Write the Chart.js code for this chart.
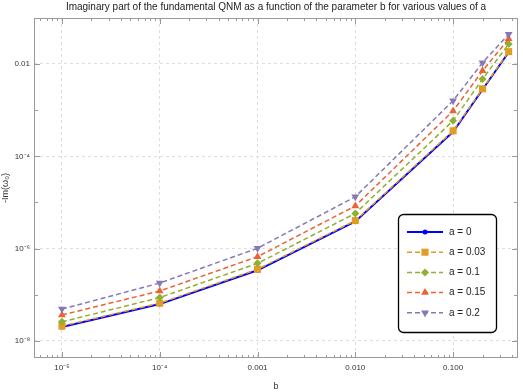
<!DOCTYPE html>
<html lang="en">
<head>
  <meta charset="UTF-8">
  <title>Imaginary part of the fundamental QNM</title>
  <style>
    html, body {
      margin: 0;
      padding: 0;
      background: #fff;
    }
    #wrap {
      width: 523px;
      height: 392px;
    }
  </style>
</head>
<body>
  <div id="wrap"><canvas id="qnmChart" width="523" height="392"></canvas></div>

  <script src="https://cdn.jsdelivr.net/npm/chart.js"></script>
  <script>
    // values
    const bValues = [1e-5, 1e-4, 1e-3, 1e-2, 0.1, 0.2, 0.37];
    const imA0 = [2.0e-8, 6.3e-8, 3.4e-7, 3.9e-6, 3.4e-4, 2.8e-3, 1.8e-2];
    const imA003 = [2.1e-8, 6.6e-8, 3.57e-7, 4.05e-6, 3.57e-4, 2.9e-3, 1.85e-2];
    const imA01 = [2.6e-8, 8.7e-8, 4.8e-7, 5.8e-6, 5.9e-4, 4.7e-3, 2.7e-2];
    const imA015 = [3.66e-8, 1.21e-7, 6.7e-7, 8.4e-6, 9.6e-4, 7.1e-3, 3.5e-2];
    const imA02 = [4.9e-8, 1.8e-7, 1.02e-6, 1.33e-5, 1.6e-3, 1.07e-2, 4.4e-2];

    const seriesLabels = ['a = 0', 'a = 0.03', 'a = 0.1', 'a = 0.15', 'a = 0.2'];
    const chartTitle = 'Imaginary part of the fundamental QNM as a function of the parameter b for various values of a';

    // tick marks and labels
    const xMajor = [1e-5, 1e-4, 1e-3, 1e-2, 0.1];
    const xMajorLabels = ['10\u207B\u2075', '10\u207B\u2074', '0.001', '0.010', '0.100'];
    const xMinor = [6e-6, 7e-6, 8e-6, 9e-6,
      2e-5, 3e-5, 4e-5, 5e-5, 6e-5, 7e-5, 8e-5, 9e-5,
      2e-4, 3e-4, 4e-4, 5e-4, 6e-4, 7e-4, 8e-4, 9e-4,
      2e-3, 3e-3, 4e-3, 5e-3, 6e-3, 7e-3, 8e-3, 9e-3,
      0.02, 0.03, 0.04, 0.05, 0.06, 0.07, 0.08, 0.09,
      0.2, 0.3, 0.4];
    const yMajor = [1e-8, 1e-6, 1e-4, 1e-2];
    const yMajorLabels = ['10\u207B\u2078', '10\u207B\u2076', '10\u207B\u2074', '0.01'];
    const yMinor = [1e-7, 1e-5, 1e-3];

    const FONT = "'Liberation Sans', Arial, sans-serif";

    function pairs(ys) {
      return bValues.map((b, i) => ({ x: b, y: ys[i] }));
    }

    function labelFor(majors, labels, v) {
      const i = majors.indexOf(v);
      return i >= 0 ? labels[i] : '';
    }

    const styles = [
      { color: '#0000ff', dash: [], width: 2, point: 'circle', radius: 2.5, rot: 0 },
      { color: '#e19c24', dash: [5, 3], width: 1.5, point: 'rect', radius: 5, rot: 0 },
      { color: '#8fb032', dash: [5, 3], width: 1.5, point: 'rectRot', radius: 4, rot: 0 },
      { color: '#eb6235', dash: [5, 3], width: 1.5, point: 'triangle', radius: 4.5, rot: 0 },
      { color: '#8778b3', dash: [5, 3], width: 1.5, point: 'triangle', radius: 4.5, rot: 180 }
    ];
    const seriesData = [imA0, imA003, imA01, imA015, imA02];

    const datasets = seriesData.map((ys, i) => ({
      label: seriesLabels[i],
      data: pairs(ys),
      borderColor: styles[i].color,
      backgroundColor: styles[i].color,
      borderWidth: styles[i].width,
      borderDash: styles[i].dash,
      pointStyle: styles[i].point,
      pointRadius: styles[i].radius,
      pointRotation: styles[i].rot,
      pointBorderWidth: 0,
      pointBackgroundColor: styles[i].color,
      tension: 0,
      order: 5 - i
    }));

    function drawMarker(ctx, st, x, y) {
      ctx.save();
      ctx.fillStyle = st.color;
      ctx.translate(x, y);
      ctx.rotate(st.rot * Math.PI / 180);
      ctx.beginPath();
      const r = st.radius;
      if (st.point === 'circle') {
        ctx.arc(0, 0, r, 0, Math.PI * 2);
      } else if (st.point === 'rect') {
        const s = r * Math.SQRT1_2;
        ctx.rect(-s, -s, 2 * s, 2 * s);
      } else if (st.point === 'rectRot') {
        ctx.moveTo(0, -r); ctx.lineTo(r, 0); ctx.lineTo(0, r); ctx.lineTo(-r, 0);
        ctx.closePath();
      } else {
        ctx.moveTo(0, -r);
        ctx.lineTo(r * 0.87, r * 0.5);
        ctx.lineTo(-r * 0.87, r * 0.5);
        ctx.closePath();
      }
      ctx.fill();
      ctx.restore();
    }

    // frame, inward ticks, title over the plot area and the boxed legend
    const framePlugin = {
      id: 'frameTicks',
      afterDatasetsDraw(chart) {
        const ctx = chart.ctx;
        const area = chart.chartArea;
        const xs = chart.scales.x, ys = chart.scales.y;
        ctx.save();
        ctx.strokeStyle = '#9a9a9a';
        ctx.lineWidth = 1;
        ctx.setLineDash([]);
        ctx.strokeRect(area.left + 0.5, area.top + 0.5, area.right - area.left - 1, area.bottom - area.top - 1);
        ctx.beginPath();
        xMajor.concat(xMinor).forEach(v => {
          const px = Math.round(xs.getPixelForValue(v)) + 0.5;
          const len = xMajor.includes(v) ? 6 : 3;
          ctx.moveTo(px, area.bottom); ctx.lineTo(px, area.bottom - len);
          ctx.moveTo(px, area.top); ctx.lineTo(px, area.top + len);
        });
        yMajor.concat(yMinor).forEach(v => {
          const py = Math.round(ys.getPixelForValue(v)) + 0.5;
          const len = yMajor.includes(v) ? 6 : 4;
          ctx.moveTo(area.left, py); ctx.lineTo(area.left + len, py);
          ctx.moveTo(area.right, py); ctx.lineTo(area.right - len, py);
        });
        ctx.stroke();
        ctx.restore();
      },
      afterDraw(chart) {
        const ctx = chart.ctx;
        const area = chart.chartArea;
        ctx.save();
        ctx.font = '10px ' + FONT;
        ctx.fillStyle = '#222';
        ctx.textAlign = 'center';
        ctx.textBaseline = 'middle';
        ctx.fillText(chartTitle, (area.left + area.right) / 2, 7);
        ctx.restore();

        const box = { x: 398.5, y: 214.5, w: 98, h: 118, r: 5 };
        ctx.save();
        ctx.fillStyle = '#fff';
        ctx.strokeStyle = '#000';
        ctx.lineWidth = 1.3;
        ctx.beginPath();
        ctx.roundRect(box.x, box.y, box.w, box.h, box.r);
        ctx.fill();
        ctx.stroke();
        ctx.font = '10px ' + FONT;
        ctx.textBaseline = 'middle';
        seriesLabels.forEach((lab, i) => {
          const st = styles[i];
          const y = 232 + i * 20.2;
          ctx.strokeStyle = st.color;
          ctx.lineWidth = st.width;
          ctx.setLineDash(st.dash);
          ctx.beginPath();
          ctx.moveTo(407, y); ctx.lineTo(443, y);
          ctx.stroke();
          ctx.setLineDash([]);
          drawMarker(ctx, st, 425, y);
          ctx.fillStyle = '#222';
          ctx.fillText(lab, 449, y);
        });
        ctx.restore();
      }
    };

    const chart = new Chart(document.getElementById('qnmChart'), {
      type: 'line',
      data: { datasets },
      plugins: [framePlugin],
      options: {
        responsive: false,
        animation: false,
        layout: { padding: { left: 0, right: 4, top: 18, bottom: 0 } },
        plugins: {
          legend: { display: false },
          tooltip: { enabled: false },
          title: { display: false }
        },
        scales: {
          x: {
            type: 'logarithmic',
            min: 5.18e-6,
            max: 0.461,
            afterBuildTicks: axis => { axis.ticks = xMajor.concat(xMinor).sort((a, b) => a - b).map(v => ({ value: v })); },
            afterFit: axis => { axis.height = 34; },
            ticks: {
              autoSkip: false,
              maxRotation: 0,
              padding: 5,
              color: '#333',
              font: { family: FONT, size: 8 },
              callback: v => labelFor(xMajor, xMajorLabels, v)
            },
            grid: {
              drawTicks: false,
              color: c => (c.tick && xMajor.includes(c.tick.value)) ? '#dedede' : 'rgba(0,0,0,0)'
            },
            border: { display: false, dash: [3, 3] },
            title: {
              display: true,
              text: 'b',
              color: '#333',
              font: { family: FONT, size: 9 },
              padding: 0
            }
          },
          y: {
            type: 'logarithmic',
            min: 4.28e-9,
            max: 0.0991,
            afterBuildTicks: axis => { axis.ticks = yMajor.concat(yMinor).sort((a, b) => a - b).map(v => ({ value: v })); },
            afterFit: axis => { axis.width = 34; },
            ticks: {
              autoSkip: false,
              padding: 4,
              color: '#333',
              font: { family: FONT, size: 8 },
              callback: v => labelFor(yMajor, yMajorLabels, v)
            },
            grid: {
              drawTicks: false,
              color: c => (c.tick && yMajor.includes(c.tick.value)) ? '#dedede' : 'rgba(0,0,0,0)'
            },
            border: { display: false, dash: [3, 3] },
            title: {
              display: true,
              text: '-Im(\u03C9\u2080)',
              color: '#333',
              font: { family: FONT, size: 9 },
              padding: 0
            }
          }
        }
      }
    });
  </script>
</body>
</html>
